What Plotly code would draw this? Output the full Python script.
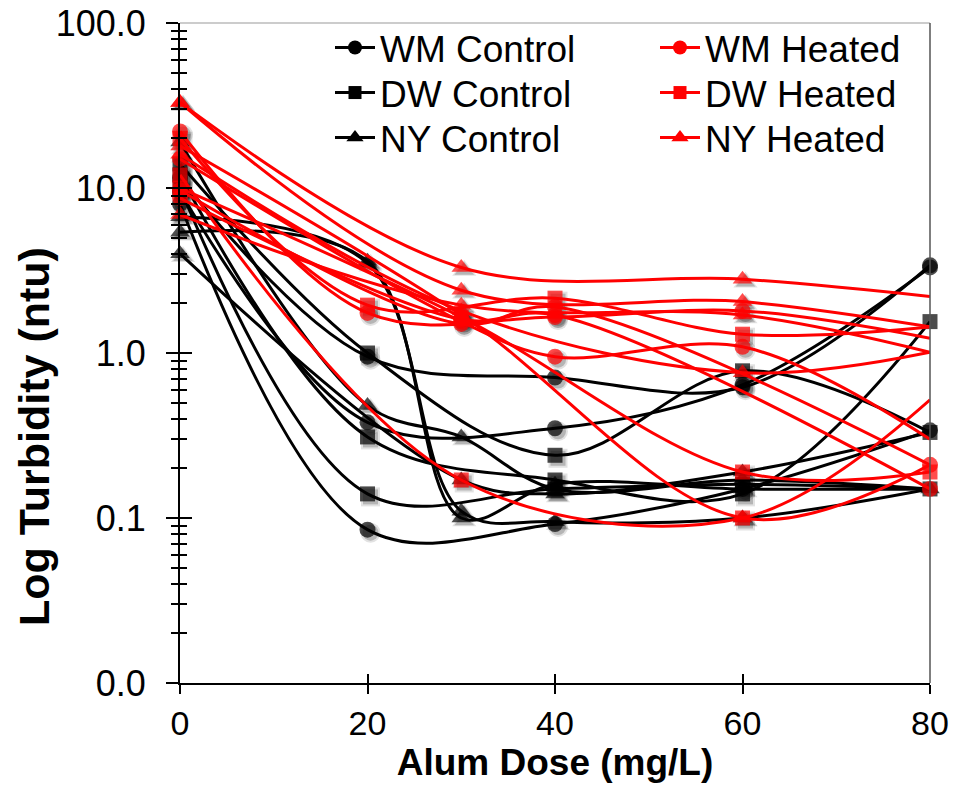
import plotly.graph_objects as go

DOSE = [0, 20, 30, 40, 60, 80]

# Turbidity (ntu); None = no measurement at that dose
WM_CONTROL = [
    [11.5, 0.95, None, 0.71, 0.62, 3.4],
    [9.5, 0.38, None, 0.35, 0.64, 3.3],
    [8.0, 0.085, None, 0.092, 0.15, 0.34],
]
DW_CONTROL = [
    [14.0, 1.0, None, 0.24, 0.78, 0.33],
    [12.0, 0.31, None, 0.17, 0.14, 1.55],
    [10.0, 0.14, None, 0.15, 0.16, 0.15],
]
NY_CONTROL = [
    [19.0, 0.48, 0.31, 0.15, 0.17, 0.15],
    [6.7, 3.5, 0.11, 0.095, 0.10, 0.15],
    [5.4, 3.6, 0.10, 0.16, 0.15, 0.15],
    [4.0, None, 0.17, 0.14, 0.19, 0.33],
]
WM_HEATED = [
    [22.0, 1.75, None, 1.65, 1.8, 1.23],
    [15.0, None, 1.55, 0.95, 1.09, 0.30],
    [9.7, None, 1.5, 1.9, None, 0.21],
    [8.7, None, 1.6, 1.7, None, 0.15],
]
DW_HEATED = [
    [20.0, 1.95, None, 2.15, 1.3, 1.44],
    [12.0, None, 0.17, None, 0.10, 0.52],
    [10.0, None, 1.65, None, 0.19, 0.19],
]
NY_HEATED = [
    [33.0, None, 3.3, None, 2.8, 2.2],
    [33.0, None, 2.4, None, 2.05, 1.44],
    [6.9, None, 1.95, None, 1.7, 1.01],
    [16.0, None, 1.8, None, 0.76, 1.01],
    [18.0, None, 1.7, None, 0.10, 0.21],
]

# whether the point at the last dose carries a marker (one flag per series)
LAST_MARKED = {
    "WM Control": [True, True, True],
    "DW Control": [True, True, True],
    "NY Control": [False, True, False, False],
    "WM Heated": [False, False, True, True],
    "DW Heated": [False, False, True],
    "NY Heated": [False, False, False, False, False],
}

SERIES = [
    ("WM Control", WM_CONTROL, "black", "circle"),
    ("DW Control", DW_CONTROL, "black", "square"),
    ("NY Control", NY_CONTROL, "black", "triangle-up"),
    ("WM Heated", WM_HEATED, "#ff0000", "circle"),
    ("DW Heated", DW_HEATED, "#ff0000", "square"),
    ("NY Heated", NY_HEATED, "#ff0000", "triangle-up"),
]

FONT = "Liberation Sans, Arial, sans-serif"
W, H = 956, 785
L, R, T, B = 180, 26, 23, 102
PW, PH = W - L - R, H - T - B
SH = 3  # shadow offset px
XR = [0, 80]
YR = [-2, 2]
sx = SH * (XR[1] - XR[0]) / PW
sy = SH * (YR[1] - YR[0]) / PH

SIZES = {"circle": 16, "square": 15, "triangle-up": 17}


def marker_sizes(vals, base, last_marked):
    s = [base if v is not None else 0 for v in vals]
    if not last_marked:
        s[-1] = 0
    return s


fig = go.Figure()

# shadows (base subplot, shifted axes)
for name, data, color, sym in SERIES:
    for i, vals in enumerate(data):
        lm = LAST_MARKED[name][i]
        fig.add_trace(go.Scatter(
            x=DOSE, y=vals, mode="markers", xaxis="x", yaxis="y",
            marker=dict(symbol=sym, size=marker_sizes(vals, SIZES[sym] + 4, lm),
                        color="rgba(0,0,0,0.16)", line=dict(width=0)),
            showlegend=False, hoverinfo="skip", cliponaxis=False))
        fig.add_trace(go.Scatter(
            x=DOSE, y=vals, mode="markers", xaxis="x", yaxis="y",
            marker=dict(symbol=sym, size=marker_sizes(vals, SIZES[sym], lm),
                        color="rgba(0,0,0,0.28)", line=dict(width=0)),
            showlegend=False, hoverinfo="skip", cliponaxis=False))

# main series
for name, data, color, sym in SERIES:
    for i, vals in enumerate(data):
        lm = LAST_MARKED[name][i]
        fig.add_trace(go.Scatter(
            x=DOSE, y=vals, mode="lines+markers", xaxis="x2", yaxis="y2",
            name=name, showlegend=False, connectgaps=True,
            line=dict(color=color, width=3, shape="spline", smoothing=1.0),
            marker=dict(symbol=sym, size=marker_sizes(vals, SIZES[sym], lm),
                        color=color, line=dict(width=0)),
            cliponaxis=False))

# legend entries: one legend box per entry, placed in two columns
ROW_Y = [48, 93, 138]           # px centre of each legend row
COL_X = [330, 655]              # px left of each legend column
legend_layout = {}
for k, (name, data, color, sym) in enumerate(SERIES):
    lid = "legend" if k == 0 else f"legend{k + 1}"
    col, row = divmod(k, 3)
    fig.add_trace(go.Scatter(
        x=[None], y=[None], mode="lines+markers", xaxis="x2", yaxis="y2",
        name=name, legend=lid, showlegend=True,
        line=dict(color=color, width=3),
        marker=dict(symbol=sym, size=SIZES[sym] - 2, color=color)))
    legend_layout[lid] = dict(
        x=(COL_X[col] - L) / PW, y=(H - B - ROW_Y[row]) / PH,
        xanchor="left", yanchor="middle", bgcolor="rgba(0,0,0,0)", borderwidth=0,
        font=dict(size=37, family=FONT, color="black"), itemwidth=40)

# dummy for inside-tick overlay
fig.add_trace(go.Scatter(x=[None], y=[None], xaxis="x3", yaxis="y3", showlegend=False))

minor_vals = [m * 10 ** k for k in (-2, -1, 0, 1) for m in range(2, 10)]
major_vals = [0.01, 0.1, 1, 10, 100]
major_text = ["0.0", "0.1", "1.0", "10.0", "100.0"]

common_x = dict(range=XR, showgrid=False, zeroline=False, automargin=False)
common_y = dict(type="log", range=YR, showgrid=False, zeroline=False, automargin=False)

fig.update_layout(
    width=W, height=H,
    margin=dict(l=L, r=R, t=T, b=B, autoexpand=False),
    paper_bgcolor="white", plot_bgcolor="white",
    font=dict(family=FONT, color="black"),
    xaxis=dict(range=[XR[0] - sx, XR[1] - sx], visible=False, automargin=False),
    yaxis=dict(type="log", range=[YR[0] + sy, YR[1] + sy], visible=False, automargin=False),
    xaxis2=dict(**common_x, overlaying="x", anchor="y2",
                tickmode="array", tickvals=[0, 20, 40, 60, 80],
                ticks="outside", ticklen=9, tickwidth=2, tickcolor="black",
                showline=True, linecolor="black", linewidth=2,
                tickfont=dict(size=34, family=FONT), ticklabelstandoff=0,
                title=dict(text="<b>Alum Dose (mg/L)</b>", font=dict(size=37, family=FONT), standoff=0)),
    yaxis2=dict(**common_y, overlaying="y", anchor="x2",
                tickmode="array", tickvals=major_vals, ticktext=major_text,
                ticks="outside", ticklen=12, tickwidth=2, tickcolor="black",
                minor=dict(tickmode="array", tickvals=minor_vals, ticks="outside",
                           ticklen=7, tickwidth=1.5, tickcolor="black", showgrid=False),
                showline=True, linecolor="black", linewidth=2,
                tickfont=dict(size=36, family=FONT), ticklabelstandoff=13),
    xaxis3=dict(**common_x, overlaying="x", anchor="y3",
                tickmode="array", tickvals=[0, 20, 40, 60, 80],
                ticks="inside", ticklen=9, tickwidth=2, tickcolor="black",
                showticklabels=False, showline=False),
    yaxis3=dict(**common_y, overlaying="y", anchor="x3",
                tickmode="array", tickvals=major_vals,
                ticks="inside", ticklen=12, tickwidth=2, tickcolor="black",
                minor=dict(tickmode="array", tickvals=minor_vals, ticks="inside",
                           ticklen=7, tickwidth=1.5, tickcolor="black", showgrid=False),
                showticklabels=False, showline=False),
    annotations=[dict(text="<b>Log Turbidity (ntu)</b>", textangle=-90,
                      xref="paper", yref="paper",
                      x=(34 - L) / PW, y=(H - B - 437) / PH,
                      xanchor="center", yanchor="middle", showarrow=False,
                      font=dict(size=43, family=FONT, color="black"))],
    shapes=[
        dict(type="line", xref="paper", yref="paper", x0=0, x1=1, y0=1, y1=1,
             line=dict(color="#999999", width=1)),
        dict(type="line", xref="paper", yref="paper", x0=1, x1=1, y0=0, y1=1,
             line=dict(color="#555555", width=1.5)),
    ],
    **legend_layout,
)

fig.write_html("out.html")
